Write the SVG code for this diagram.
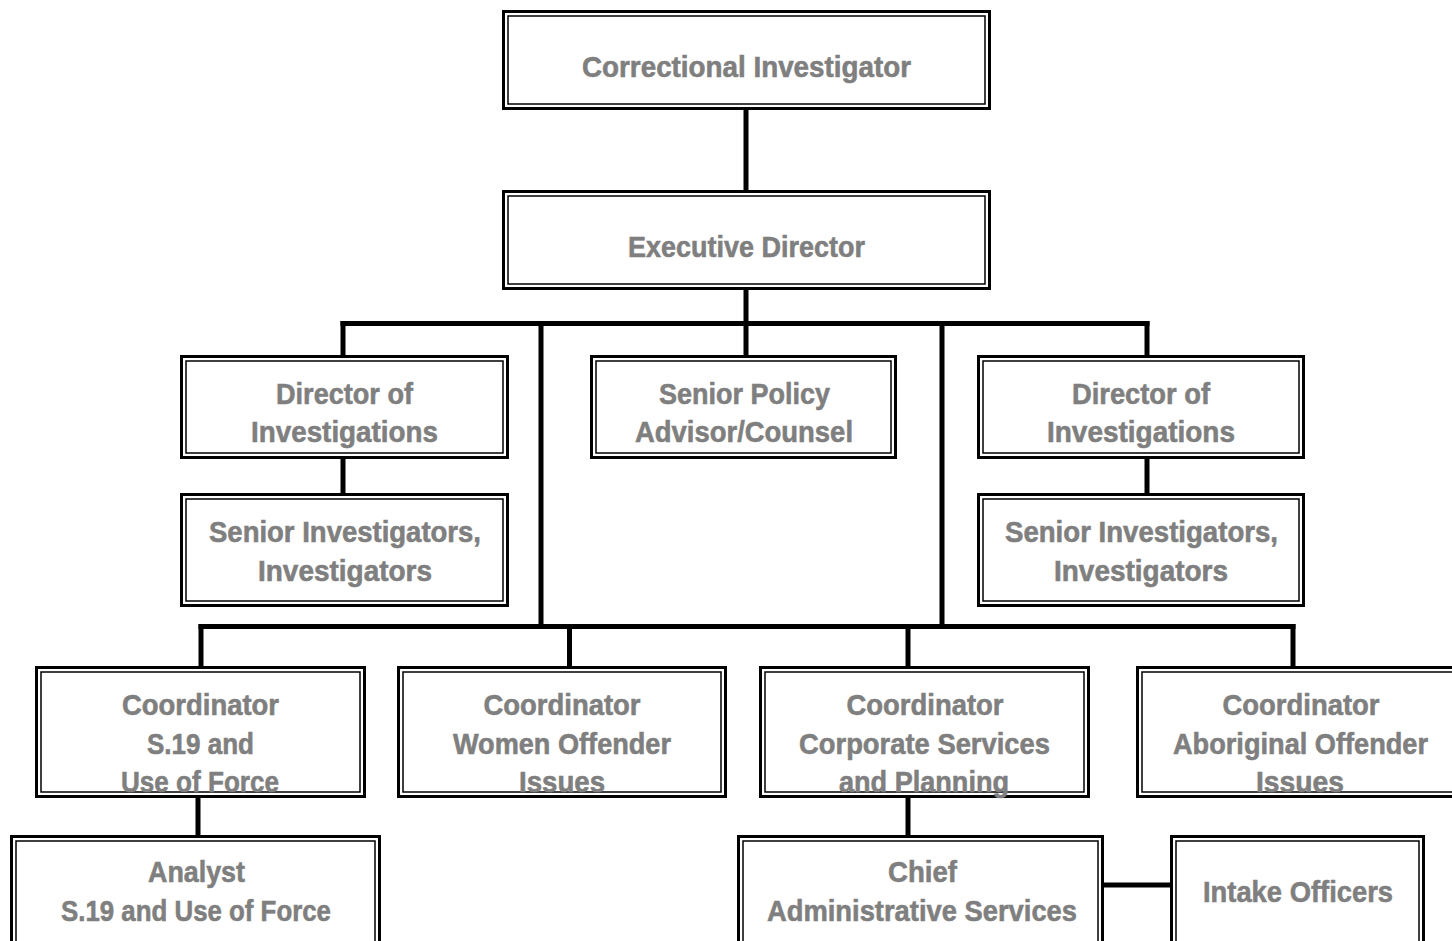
<svg xmlns="http://www.w3.org/2000/svg" width="1452" height="941" viewBox="0 0 1452 941">
<style>
.o{fill:#fff;stroke:#000;stroke-width:3}
.i{fill:none;stroke:#000;stroke-width:1.5}
.t{font-family:"Liberation Sans Narrow","Liberation Sans",Arial,sans-serif;font-weight:bold;font-size:30px;fill:#7f7f7f;stroke:#7f7f7f;stroke-width:0.6;text-anchor:middle}
.c{stroke:#000;stroke-width:5;fill:none;stroke-linecap:square}
</style>
<rect width="1452" height="941" fill="#fff"/>
<g id="connectors">
<line class="c" x1="746" y1="110" x2="746" y2="190"/>
<line class="c" x1="746" y1="290" x2="746" y2="323.5"/>
<line class="c" x1="343" y1="323.5" x2="1147" y2="323.5"/>
<line class="c" x1="343" y1="323.5" x2="343" y2="355"/>
<line class="c" x1="746" y1="323.5" x2="746" y2="355"/>
<line class="c" x1="1147" y1="323.5" x2="1147" y2="355"/>
<line class="c" x1="541" y1="323.5" x2="541" y2="626.5"/>
<line class="c" x1="942" y1="323.5" x2="942" y2="626.5"/>
<line class="c" x1="201" y1="626.5" x2="1293" y2="626.5"/>
<line class="c" x1="201" y1="626.5" x2="201" y2="666"/>
<line class="c" x1="569.5" y1="626.5" x2="569.5" y2="666"/>
<line class="c" x1="908" y1="626.5" x2="908" y2="666"/>
<line class="c" x1="1293" y1="626.5" x2="1293" y2="666"/>
<line class="c" x1="343" y1="459" x2="343" y2="493"/>
<line class="c" x1="1147" y1="459" x2="1147" y2="493"/>
<line class="c" x1="198" y1="798" x2="198" y2="835"/>
<line class="c" x1="908" y1="798" x2="908" y2="835"/>
<line class="c" x1="1104" y1="885" x2="1170" y2="885"/>
</g>
<g id="correctional-investigator">
<rect class="o" x="503.5" y="11.5" width="486" height="97"/><rect class="i" x="508" y="16" width="477" height="88"/>
<text class="t" x="746.5" y="77" textLength="329" lengthAdjust="spacingAndGlyphs">Correctional Investigator</text>
</g>
<g id="executive-director">
<rect class="o" x="503.5" y="191.5" width="486" height="97"/><rect class="i" x="508" y="196" width="477" height="88"/>
<text class="t" x="746.5" y="257" textLength="237" lengthAdjust="spacingAndGlyphs">Executive Director</text>
</g>
<g id="director-investigations-left">
<rect class="o" x="181.5" y="356.5" width="326" height="101"/><rect class="i" x="186" y="361" width="317" height="92"/>
<text class="t" x="344.5" y="404" textLength="137" lengthAdjust="spacingAndGlyphs">Director of</text>
<text class="t" x="344.5" y="442" textLength="187" lengthAdjust="spacingAndGlyphs">Investigations</text>
</g>
<g id="senior-investigators-left">
<rect class="o" x="181.5" y="494.5" width="326" height="111"/><rect class="i" x="186" y="499" width="317" height="102"/>
<text class="t" x="345" y="542" textLength="272" lengthAdjust="spacingAndGlyphs">Senior Investigators,</text>
<text class="t" x="345" y="581" textLength="174" lengthAdjust="spacingAndGlyphs">Investigators</text>
</g>
<g id="senior-policy-advisor">
<rect class="o" x="591.5" y="356.5" width="304" height="101"/><rect class="i" x="596" y="361" width="295" height="92"/>
<text class="t" x="744.5" y="404" textLength="171" lengthAdjust="spacingAndGlyphs">Senior Policy</text>
<text class="t" x="744" y="442" textLength="218" lengthAdjust="spacingAndGlyphs">Advisor/Counsel</text>
</g>
<g id="director-investigations-right">
<rect class="o" x="978.5" y="356.5" width="325" height="101"/><rect class="i" x="983" y="361" width="316" height="92"/>
<text class="t" x="1141" y="404" textLength="138" lengthAdjust="spacingAndGlyphs">Director of</text>
<text class="t" x="1141" y="442" textLength="188" lengthAdjust="spacingAndGlyphs">Investigations</text>
</g>
<g id="senior-investigators-right">
<rect class="o" x="978.5" y="494.5" width="325" height="111"/><rect class="i" x="983" y="499" width="316" height="102"/>
<text class="t" x="1141.5" y="542" textLength="273" lengthAdjust="spacingAndGlyphs">Senior Investigators,</text>
<text class="t" x="1141" y="581" textLength="174" lengthAdjust="spacingAndGlyphs">Investigators</text>
</g>
<g id="coordinator-s19">
<rect class="o" x="36.5" y="667.5" width="328" height="129"/><rect class="i" x="41" y="672" width="319" height="120"/>
<text class="t" x="200.5" y="715" textLength="157" lengthAdjust="spacingAndGlyphs">Coordinator</text>
<text class="t" x="200.5" y="754" textLength="107" lengthAdjust="spacingAndGlyphs">S.19 and</text>
<text class="t" x="200" y="792" textLength="158" lengthAdjust="spacingAndGlyphs">Use of Force</text>
</g>
<g id="coordinator-women">
<rect class="o" x="398.5" y="667.5" width="327" height="129"/><rect class="i" x="403" y="672" width="318" height="120"/>
<text class="t" x="562" y="715" textLength="157" lengthAdjust="spacingAndGlyphs">Coordinator</text>
<text class="t" x="562" y="754" textLength="218" lengthAdjust="spacingAndGlyphs">Women Offender</text>
<text class="t" x="562" y="792" textLength="86" lengthAdjust="spacingAndGlyphs">Issues</text>
</g>
<g id="coordinator-corporate">
<rect class="o" x="760.5" y="667.5" width="328" height="129"/><rect class="i" x="765" y="672" width="319" height="120"/>
<text class="t" x="925" y="715" textLength="157" lengthAdjust="spacingAndGlyphs">Coordinator</text>
<text class="t" x="924.5" y="754" textLength="251" lengthAdjust="spacingAndGlyphs">Corporate Services</text>
<text class="t" x="924" y="792" textLength="170" lengthAdjust="spacingAndGlyphs">and Planning</text>
</g>
<g id="coordinator-aboriginal">
<rect class="o" x="1137.5" y="667.5" width="340" height="129"/><rect class="i" x="1142" y="672" width="331" height="120"/>
<text class="t" x="1301" y="715" textLength="157" lengthAdjust="spacingAndGlyphs">Coordinator</text>
<text class="t" x="1300.5" y="754" textLength="255" lengthAdjust="spacingAndGlyphs">Aboriginal Offender</text>
<text class="t" x="1300" y="792" textLength="88" lengthAdjust="spacingAndGlyphs">Issues</text>
</g>
<g id="analyst">
<rect class="o" x="11.5" y="836.5" width="368" height="130"/><rect class="i" x="16" y="841" width="359" height="121"/>
<text class="t" x="196.5" y="882" textLength="97" lengthAdjust="spacingAndGlyphs">Analyst</text>
<text class="t" x="196" y="921" textLength="270" lengthAdjust="spacingAndGlyphs">S.19 and Use of Force</text>
</g>
<g id="chief-admin">
<rect class="o" x="738.5" y="836.5" width="364" height="130"/><rect class="i" x="743" y="841" width="355" height="121"/>
<text class="t" x="922.5" y="882" textLength="69" lengthAdjust="spacingAndGlyphs">Chief</text>
<text class="t" x="922" y="921" textLength="310" lengthAdjust="spacingAndGlyphs">Administrative Services</text>
</g>
<g id="intake-officers">
<rect class="o" x="1171.5" y="836.5" width="252" height="130"/><rect class="i" x="1176" y="841" width="243" height="121"/>
<text class="t" x="1298" y="902" textLength="190" lengthAdjust="spacingAndGlyphs">Intake Officers</text>
</g>
</svg>
